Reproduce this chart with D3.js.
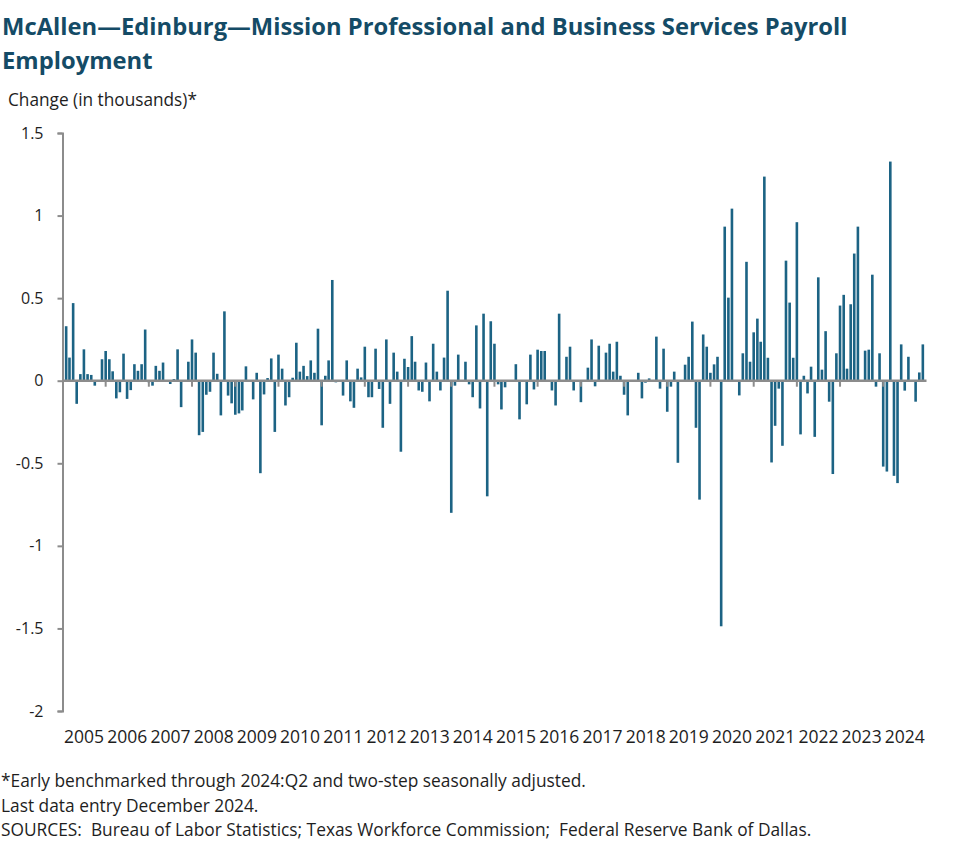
<!DOCTYPE html>
<html>
<head>
<meta charset="utf-8">
<script src="https://cdn.jsdelivr.net/npm/d3@7"></script>
<style>
  body { margin: 0; background: #fff; }
  svg { display: block; font-family: "Open Sans", Lato, sans-serif; }
</style>
</head>
<body>
<div id="chart"></div>
<script>
// Monthly change, in thousands, Feb 2005 .. Dec 2024 (one row per year)
var changes = [
  0.33, 0.14, 0.47, -0.14, 0.04, 0.19, 0.04, 0.035, -0.03, 0, 0.13,               // 2005 (Feb-Dec)
  0.18, 0.13, 0.057, -0.107, -0.07, 0.164, -0.11, -0.057, 0.10, 0.06, 0.10, 0.31, // 2006
  -0.01, -0.03, 0.09, 0.06, 0.11, 0, -0.02, 0.01, 0.19, -0.16, 0, 0.115,          // 2007
  0.25, 0.17, -0.33, -0.31, -0.085, -0.067, 0.17, 0.042, -0.21, 0.42, -0.09, -0.137, // 2008
  -0.206, -0.198, -0.18, 0.087, 0, -0.113, 0.048, -0.56, -0.083, 0.016, 0.135, -0.31, // 2009
  0.158, 0.073, -0.15, -0.10, 0.018, 0.23, 0.055, 0.09, 0.028, 0.123, 0.048, 0.315, // 2010
  -0.27, 0.03, 0.123, 0.61, -0.01, 0, -0.09, 0.123, -0.125, -0.164, 0.073, 0.02,  // 2011
  0.206, -0.10, -0.10, 0.194, -0.05, -0.285, 0.25, -0.14, 0.17, 0.055, -0.43, 0.133, // 2012
  0.083, 0.27, 0.115, -0.059, -0.067, 0.11, -0.125, 0.224, 0.055, -0.059, 0.14, 0.545, // 2013
  -0.80, -0.03, 0.158, 0, 0.115, -0.022, -0.10, 0.335, -0.168, 0.406, -0.70, 0.36, // 2014
  0.224, -0.022, -0.174, -0.04, 0, 0, 0.10, -0.234, 0, -0.143, 0.158, -0.053,     // 2015
  0.188, 0.18, 0.18, 0, -0.059, -0.15, 0.406, 0, 0.145, 0.206, -0.059, 0,         // 2016
  -0.13, 0, 0.079, 0.25, -0.034, 0.212, 0, 0.17, 0.224, 0.055, 0.236, 0.03,       // 2017
  -0.085, -0.21, 0, 0, 0.048, -0.107, -0.012, 0.014, 0, 0.267, -0.048, 0.194,     // 2018
  -0.188, -0.036, 0.055, -0.497, 0, 0.097, 0.145, 0.358, -0.285, -0.72, 0.28, 0.206, // 2019
  0.048, 0.099, 0.145, -1.487, 0.933, 0.503, 1.042, 0, -0.089, 0.166, 0.72, 0.115, // 2020
  0.293, 0.376, 0.236, 1.236, 0.139, -0.495, -0.273, -0.048, -0.394, 0.727, 0.473, 0.139, // 2021
  0.96, -0.325, 0.03, -0.077, 0.085, -0.34, 0.626, 0.067, 0.30, -0.127, -0.565, 0.166, // 2022
  0.455, 0.52, 0.073, 0.463, 0.77, 0.933, 0, 0.182, 0.188, 0.642, -0.036, 0.166,  // 2023
  -0.52, -0.55, 1.327, -0.576, -0.62, 0.22, -0.06, 0.145, 0, -0.127, 0.05, 0.22   // 2024
];
var years = d3.range(2005, 2025);
var yTicks = [-2, -1.5, -1, -0.5, 0, 0.5, 1, 1.5];

var titleLines = ["McAllen\u2014Edinburg\u2014Mission Professional and Business Services Payroll", "Employment"];
var yLabel = "Change (in thousands)*";
var notes = [
  "*Early benchmarked through 2024:Q2 and two-step seasonally adjusted.",
  "Last data entry December 2024.",
  "SOURCES:  Bureau of Labor Statistics; Texas Workforce Commission;  Federal Reserve Bank of Dallas."
];

var width = 977, height = 864;
var barColor = "#1c6384", axisColor = "#8c8c8c", titleColor = "#144b66", textColor = "#1e1e1e";

var data = changes.map(function (v, i) {
    return { date: new Date(2005, 1 + i, 1), value: v };
});

// shrink or grow a text's font size so that it spans the given width
function fitWidth(sel, target) {
    var w = sel.node().getComputedTextLength();
    var fs = parseFloat(sel.style("font-size"));
    sel.style("font-size", (fs * target / w) + "px");
}

var svg = d3.select("#chart").append("svg")
    .attr("width", width)
    .attr("height", height);

var x = d3.scaleTime()
    .domain([new Date(2005, 0, 1), new Date(2025, 0, 1)])
    .range([62.5, 926.5]);

var y = d3.scaleLinear()
    .domain([-2, 1.5])
    .range([711, 133]);

// title
var title = svg.append("text")
    .attr("fill", titleColor)
    .style("font-size", "23px")
    .style("font-weight", "bold");
title.selectAll("tspan")
    .data(titleLines)
    .enter().append("tspan")
    .attr("x", 2)
    .attr("y", function (d, i) { return 35 + i * 34; })
    .text(function (d) { return d; });
var probe = svg.append("text").style("font-size", "23px").style("font-weight", "bold").text(titleLines[0]);
var tw = probe.node().getComputedTextLength();
probe.remove();
title.style("font-size", (23 * 846 / tw) + "px");

var yl = svg.append("text")
    .attr("x", 8)
    .attr("y", 106)
    .attr("fill", textColor)
    .style("font-size", "16px")
    .text(yLabel);
fitWidth(yl, 189);

// y axis
var yAxis = d3.axisLeft(y)
    .tickValues(yTicks)
    .tickSize(5)
    .tickPadding(14)
    .tickFormat(function (d) { return String(d); });

var gy = svg.append("g")
    .attr("transform", "translate(62.5,0)")
    .call(yAxis);
gy.select(".domain").attr("stroke", axisColor).attr("stroke-width", 2);
gy.selectAll(".tick line").attr("stroke", axisColor).attr("stroke-width", 2);
gy.selectAll(".tick text")
    .attr("fill", textColor)
    .style("font-size", "16px")
    .style("font-family", "\"Open Sans\", sans-serif");

// bars
var barW = 2.6;
svg.append("g").selectAll("rect")
    .data(data)
    .enter().append("rect")
    .attr("x", function (d) { return x(d.date) - barW / 2; })
    .attr("y", function (d) { return Math.min(y(d.value), y(0)); })
    .attr("width", barW)
    .attr("height", function (d) { return Math.abs(y(d.value) - y(0)); })
    .attr("fill", barColor);

// zero line with year ticks
svg.append("line")
    .attr("x1", x.range()[0]).attr("x2", x.range()[1])
    .attr("y1", y(0)).attr("y2", y(0))
    .attr("stroke", axisColor)
    .attr("stroke-width", 2.5);

svg.append("g").selectAll("line")
    .data(years.slice(1))
    .enter().append("line")
    .attr("x1", function (d) { return x(new Date(d, 0, 1)); })
    .attr("x2", function (d) { return x(new Date(d, 0, 1)); })
    .attr("y1", y(0))
    .attr("y2", y(0) + 6)
    .attr("stroke", axisColor)
    .attr("stroke-width", 2);

svg.append("g").selectAll("text")
    .data(years)
    .enter().append("text")
    .attr("x", function (d) { return (x(new Date(d, 0, 1)) + x(new Date(d + 1, 0, 1))) / 2; })
    .attr("y", 743)
    .attr("text-anchor", "middle")
    .attr("fill", textColor)
    .style("font-size", "17.5px")
    .text(function (d) { return d; });

// notes
var noteText = svg.append("g").selectAll("text")
    .data(notes)
    .enter().append("text")
    .attr("x", 1)
    .attr("y", function (d, i) { return 787 + i * 24.5; })
    .attr("fill", textColor)
    .style("font-size", "16px")
    .style("white-space", "pre")
    .text(function (d) { return d; });
var nfs = 16 * 811 / noteText.nodes()[2].getComputedTextLength();
noteText.style("font-size", nfs + "px");
</script>
</body>
</html>
